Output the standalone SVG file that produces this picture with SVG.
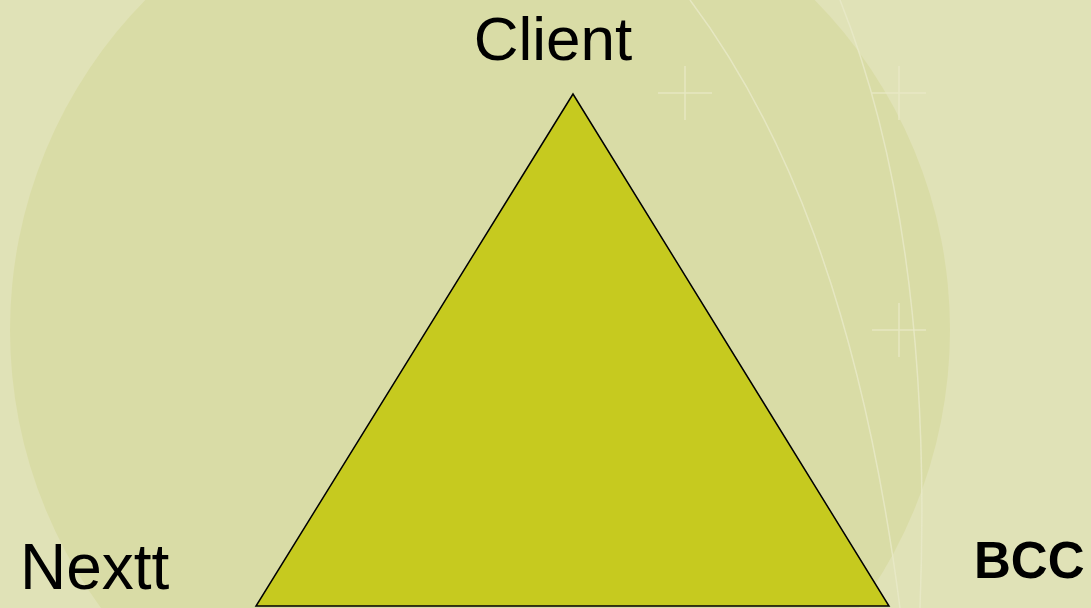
<svg xmlns="http://www.w3.org/2000/svg" width="1091" height="608" viewBox="0 0 1091 608">
<style>
.fine{fill:none;stroke:#e8eac8;stroke-width:1.5;opacity:0.8}
.lbl{font-family:"Liberation Sans",Arial,sans-serif;fill:#000}
</style>
<g id="background">
<rect x="0" y="0" width="1091" height="608" fill="#e0e2b7"/>
<circle cx="480" cy="330" r="470" fill="#d9dca6"/>
<path class="fine" d="M690,0 C780,120 860,300 900,608"/>
<path class="fine" d="M840,0 C900,150 930,350 920,608"/>
<path class="fine" d="M658,93 H712 M685,66 V120 M872,93 H926 M899,66 V120 M872,330 H926 M899,303 V357"/>
</g>
<g id="triangle">
<polygon points="573,94 256,606 889,606" fill="#c6ca1f" stroke="#000" stroke-width="1.5"/>
</g>
<g id="connectors"></g>
<g id="node-client"><text class="lbl" x="553" y="60" font-size="62" text-anchor="middle">Client</text></g>
<g id="node-nextt"><text class="lbl" x="20" y="589" font-size="64">Nextt</text></g>
<g id="node-bcc"><text class="lbl" x="974" y="578" font-size="51" font-weight="bold">BCC</text></g>
</svg>
